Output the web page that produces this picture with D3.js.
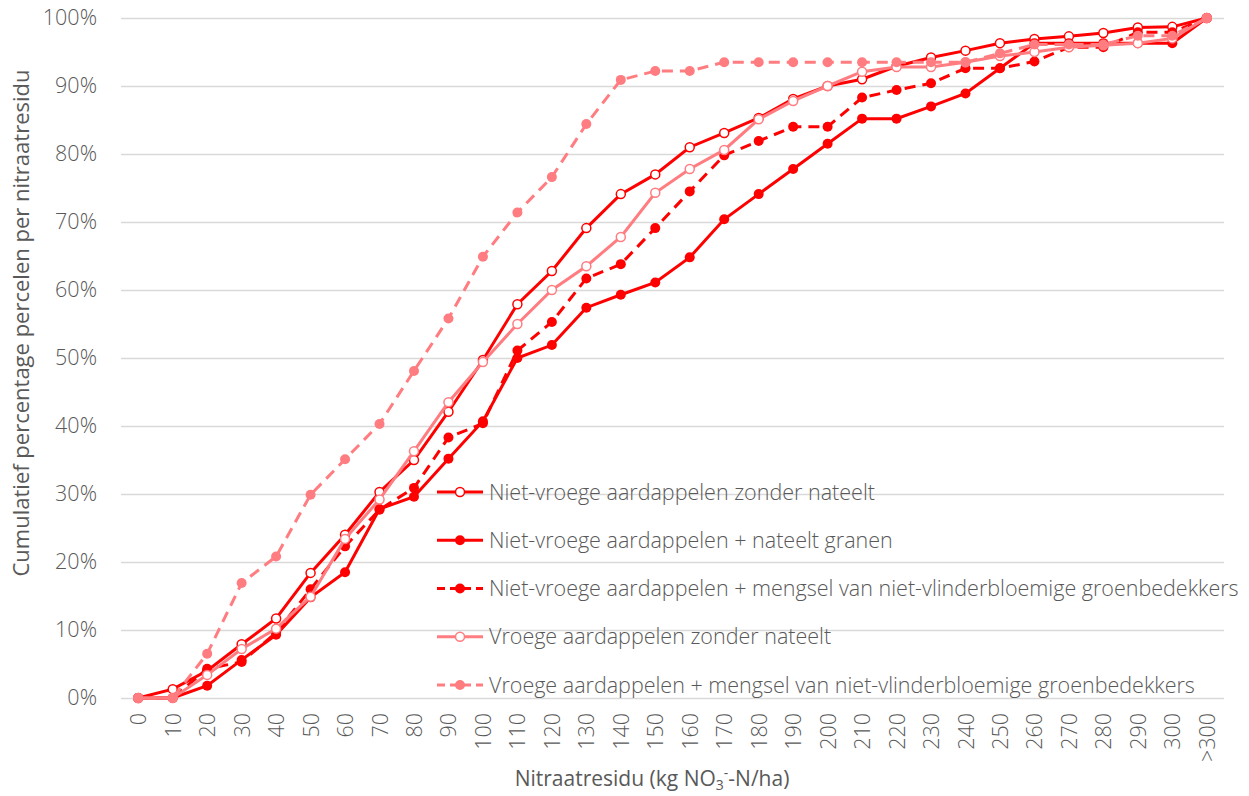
<!DOCTYPE html>
<html>
<head>
    <title>Cumulatief nitraatresidu</title>
    <script src="https://d3js.org/d3.v7.min.js"></script>
    <style>
        body {
            margin: 0;
            padding: 0;
            background-color: #ffffff;
        }
        .tick text { font-family: "Open Sans"; font-weight: 300; fill: #595959; }
        .title { font-family: "Open Sans"; fill: #595959; }
        .legend text { font-family: "Open Sans"; font-weight: 300; fill: #595959; }
    </style>
</head>
<body>
<div class="viz"></div>
<script>

    // categories (x) and cumulative percentages per series
    var categories = ["0","10","20","30","40","50","60","70","80","90","100","110","120","130","140","150",
        "160","170","180","190","200","210","220","230","240","250","260","270","280","290","300",">300"];

    var nietVroegeZonder = [0,1.3,4.0,7.9,11.7,18.4,24.0,30.3,35.0,42.1,49.7,57.9,62.8,69.1,74.1,77.0,
        81.0,83.1,85.3,88.1,90.0,91.0,92.9,94.2,95.2,96.3,96.9,97.3,97.8,98.6,98.7,100];
    var nietVroegeGranen = [0,0,1.8,5.6,9.3,14.8,18.5,27.8,29.6,35.2,40.7,50.0,51.9,57.4,59.3,61.1,
        64.8,70.4,74.1,77.8,81.5,85.2,85.2,87.0,88.9,92.6,96.3,96.3,96.3,96.3,96.3,100];
    var nietVroegeMengsel = [0,0,4.3,5.3,9.6,16.0,22.3,27.7,30.9,38.3,40.4,51.1,55.3,61.7,63.8,69.1,
        74.5,79.8,81.9,84.0,84.0,88.3,89.4,90.4,92.6,92.6,93.6,95.7,95.7,97.9,97.9,100];
    var vroegeZonder = [0,0,3.4,7.2,10.2,14.9,23.4,29.2,36.3,43.5,49.4,55.0,60.0,63.5,67.8,74.3,
        77.8,80.6,85.1,87.8,90.0,92.1,92.8,92.8,93.5,94.4,95.0,95.7,96.0,96.3,97.0,100];
    var vroegeMengsel = [0,0,6.5,16.9,20.8,29.9,35.1,40.3,48.1,55.8,64.9,71.4,76.6,84.4,90.9,92.2,
        92.2,93.5,93.5,93.5,93.5,93.5,93.5,93.5,93.5,94.8,96.1,96.1,96.1,97.4,97.4,100];

    var yTicks = [0,10,20,30,40,50,60,70,80,90,100];

    var series = [
        {name: "Niet-vroege aardappelen zonder nateelt", values: nietVroegeZonder, color: "#FF0000", dash: null, hollow: true},
        {name: "Niet-vroege aardappelen + nateelt granen", values: nietVroegeGranen, color: "#FF0000", dash: null, hollow: false},
        {name: "Niet-vroege aardappelen + mengsel van niet-vlinderbloemige groenbedekkers", values: nietVroegeMengsel, color: "#FF0000", dash: "11,7", hollow: false},
        {name: "Vroege aardappelen zonder nateelt", values: vroegeZonder, color: "#FF7C80", dash: null, hollow: true},
        {name: "Vroege aardappelen + mengsel van niet-vlinderbloemige groenbedekkers", values: vroegeMengsel, color: "#FF7C80", dash: "11,7", hollow: false}
    ];

    var width = 1249,
        height = 796;

    var plot = {left: 121, right: 1224, top: 18, bottom: 698};

    var svg = d3.select(".viz").append("svg")
        .attr("width", width)
        .attr("height", height);

    var x = d3.scalePoint()
        .domain(categories)
        .range([plot.left, plot.right])
        .padding(0.5);

    var y = d3.scaleLinear()
        .domain([0, 100])
        .range([plot.bottom, plot.top]);

    // gridlines + y labels
    var yAxis = svg.append("g")
        .attr("transform", "translate(" + plot.left + ",0)")
        .call(d3.axisLeft(y).tickValues(yTicks)
            .tickSize(-(plot.right - plot.left))
            .tickPadding(24)
            .tickFormat(function(d){ return d + "%"; }));
    yAxis.select(".domain").remove();
    yAxis.selectAll(".tick line")
        .attr("stroke", "#D9D9D9")
        .attr("stroke-width", 1.5);
    yAxis.selectAll(".tick text")
        .style("font-size", "21.5px");

    // x labels
    var xAxis = svg.append("g")
        .attr("transform", "translate(0," + plot.bottom + ")")
        .call(d3.axisBottom(x).tickSize(0).tickPadding(0));
    xAxis.select(".domain").remove();
    xAxis.selectAll(".tick text")
        .attr("transform", "rotate(-90)")
        .attr("x", -15)
        .attr("y", 0)
        .attr("dy", "0.35em")
        .style("text-anchor", "end")
        .style("font-size", "21.5px");

    // lines
    var line = d3.line()
        .x(function(d, i){ return x(categories[i]); })
        .y(function(d){ return y(d); });

    series.forEach(function(s){
        svg.append("path")
            .datum(s.values)
            .attr("fill", "none")
            .attr("stroke", s.color)
            .attr("stroke-width", 3)
            .attr("stroke-dasharray", s.dash)
            .attr("d", line);

        svg.selectAll(null)
            .data(s.values)
            .enter()
            .append("circle")
            .attr("cx", function(d, i){ return x(categories[i]); })
            .attr("cy", function(d){ return y(d); })
            .attr("r", s.hollow ? 4.5 : 5)
            .attr("fill", s.hollow ? "#ffffff" : s.color)
            .attr("stroke", s.hollow ? s.color : "none")
            .attr("stroke-width", 1.5);
    });

    // legend
    var legend = svg.append("g").attr("class", "legend");
    var legendY = d3.scaleLinear().domain([0, 4]).range([492, 685]);

    series.forEach(function(s, i){
        var g = legend.append("g")
            .attr("transform", "translate(437," + legendY(i) + ")");
        g.append("line")
            .attr("x1", 0).attr("x2", 46)
            .attr("stroke", s.color)
            .attr("stroke-width", 3)
            .attr("stroke-dasharray", s.dash ? "8,5" : null);
        g.append("circle")
            .attr("cx", 23)
            .attr("r", s.hollow ? 4.5 : 5)
            .attr("fill", s.hollow ? "#ffffff" : s.color)
            .attr("stroke", s.hollow ? s.color : "none")
            .attr("stroke-width", 1.5);
        g.append("text")
            .text(s.name)
            .attr("x", 52)
            .attr("dy", "0.35em")
            .style("font-size", "21.5px");
    });

    // axis titles
    var xTitle = svg.append("text")
        .attr("class", "title")
        .attr("x", 652)
        .attr("y", 786)
        .attr("text-anchor", "middle")
        .style("font-size", "21px");
    xTitle.append("tspan").text("Nitraatresidu (kg NO");
    xTitle.append("tspan").text("3").style("font-size", "14px").attr("dy", 4);
    xTitle.append("tspan").text("-").style("font-size", "14px").attr("dy", -12);
    xTitle.append("tspan").text("-N/ha)").attr("dy", 8);

    svg.append("text")
        .attr("class", "title")
        .attr("transform", "translate(21,323) rotate(-90)")
        .attr("text-anchor", "middle")
        .attr("dy", "0.35em")
        .style("font-size", "22px")
        .text("Cumulatief percentage percelen per nitraatresidu");

</script>
</body>
</html>
